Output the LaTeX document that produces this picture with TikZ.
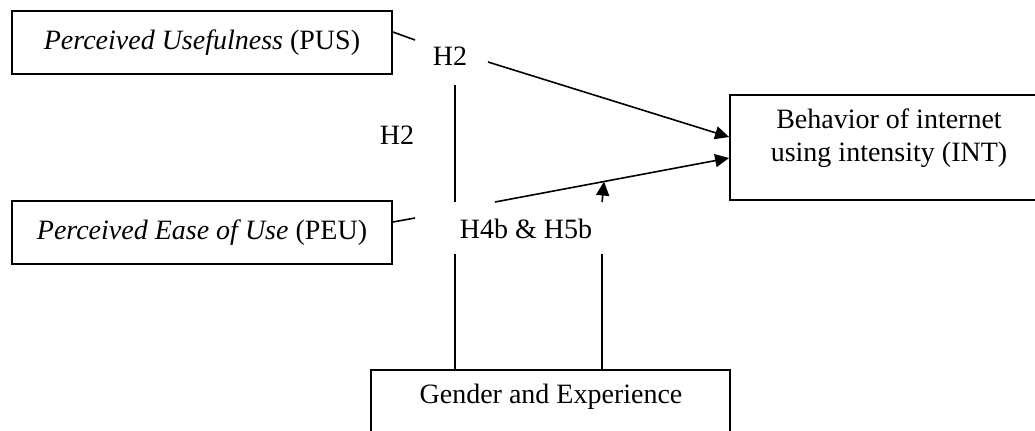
\documentclass[tikz,border=0pt]{standalone}
\usepackage{fontspec}
\setmainfont{Liberation Serif}
\usetikzlibrary{arrows.meta,positioning,calc}

\begin{document}
\begin{tikzpicture}[x=0.5pt,y=-0.5pt,
    font=\fontsize{14}{16.5}\selectfont,
    box/.style={draw,line width=0.9pt,inner sep=0pt},
    link/.style={line width=0.8pt},
    arr/.style={line width=0.8pt,-{Triangle[length=7pt,width=6.5pt]}}]
    \useasboundingbox (0,0) rectangle (1035,430);

    % Draw construct boxes
    \node[box,minimum width=190pt,minimum height=31.5pt] (pus) at (202,42.5)
        {\textit{Perceived Usefulness} (PUS)};
    \node[box,minimum width=190pt,minimum height=31.5pt] (peu) at (202,232.5)
        {\textit{Perceived Ease of Use} (PEU)};
    \node[box,minimum width=159pt,minimum height=52.5pt] (int) at (889,147.5) {};
    \node[align=center] (inttext) at (889,138) {Behavior of internet\\using intensity (INT)};
    \node[box,minimum width=179.5pt,minimum height=45pt] (gender) at (550.5,415) {};
    \node (gendertext) at (551,397) {Gender and Experience};

    % Hypothesis labels
    \node (h2a) at (450,56) {H2};
    \node (h2b) at (397,135) {H2};
    \node (hmod) at (526,229) {H4b \& H5b};

    % Paths to INT
    \draw[link] ($(pus.east)+(0,-10.5)$) -- ($(h2a)+(-35,-16)$);
    \draw[arr] ($(h2a)+(38,6)$) -- ($(int.west)+(0,-10.5)$);
    \draw[link] ($(peu.east)+(0,-10.5)$) -- ($(hmod)+(-111,-11)$);
    \coordinate (lowstart) at ($(hmod)+(-31,-27)$);
    \coordinate (lowend) at ($(int.west)+(0,10.5)$);
    \draw[arr] (lowstart) -- (lowend);

    % Moderating lines from gender and experience
    \coordinate (ga) at ($(gender.north west)+(85,0)$);
    \coordinate (gb) at ($(gender.north west)+(232,0)$);
    \draw[link] (ga) -- ++(0,-115);
    \draw[link] (gb) -- ++(0,-115);
    \draw[link] (ga |- lowstart) -- ($(ga |- h2a)+(0,29)$);
    \draw[arr] (gb |- lowstart) -- ($(lowstart)!0.4655!(lowend)$);
\end{tikzpicture}
\end{document}
